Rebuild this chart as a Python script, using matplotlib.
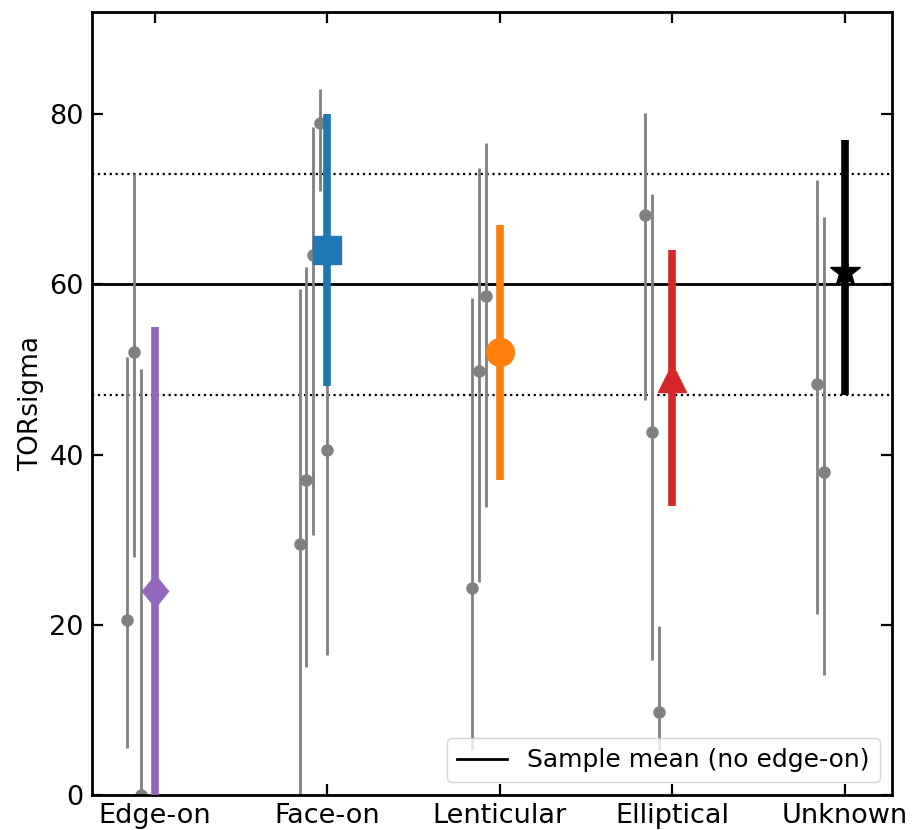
import matplotlib
matplotlib.use("Agg")
import matplotlib.pyplot as plt
from matplotlib.markers import MarkerStyle
from matplotlib.transforms import Affine2D

# Morphological classes along the x axis
categories = ["Edge-on", "Face-on", "Lenticular", "Elliptical", "Unknown"]

# Class averages with their lower / upper bounds
class_value = [24.0, 64.0, 52.0, 49.0, 61.5]
class_low = [-7.0, 48.0, 37.0, 34.0, 47.0]
class_high = [55.0, 80.0, 67.0, 64.0, 77.0]
class_colors = ["#9467bd", "#1f77b4", "#ff7f0e", "#d62728", "black"]

# Individual galaxies in each class (value, lower bound, upper bound)
edge_on_val = [20.5, 52.0, 0.0]
edge_on_low = [5.5, 28.0, -50.0]
edge_on_high = [51.5, 73.0, 50.0]

face_on_val = [29.5, 37.0, 63.5, 79.0, 40.5]
face_on_low = [-0.5, 15.0, 30.5, 71.0, 16.5]
face_on_high = [59.5, 62.0, 78.5, 83.0, 64.5]

lenticular_val = [24.3, 49.8, 58.6]
lenticular_low = [5.3, 25.0, 33.8]
lenticular_high = [58.4, 73.7, 76.6]

elliptical_val = [68.1, 42.7, 9.8]
elliptical_low = [46.4, 15.9, 5.3]
elliptical_high = [80.1, 70.6, 19.8]

unknown_val = [48.3, 37.9]
unknown_low = [21.3, 14.1]
unknown_high = [72.3, 67.9]

sample_mean = 60.0
sample_band = [47.0, 73.0]

members = [
    (edge_on_val, edge_on_low, edge_on_high),
    (face_on_val, face_on_low, face_on_high),
    (lenticular_val, lenticular_low, lenticular_high),
    (elliptical_val, elliptical_low, elliptical_high),
    (unknown_val, unknown_low, unknown_high),
]

plt.rcParams["font.family"] = ["DejaVu Sans"]

fig = plt.figure(figsize=(9.14, 8.30), dpi=100)
ax = fig.add_axes([0.1007, 0.0422, 0.8753, 0.9434])

# reference lines for the whole sample
ax.axhline(sample_mean, color="black", lw=2.0, zorder=1,
           label="Sample mean (no edge-on)")
for b in sample_band:
    ax.axhline(b, color="black", lw=1.6, ls=":", zorder=1)

# individual galaxies, offset to the left of each class position
for i, (vals, lows, highs) in enumerate(members):
    for j, (v, lo, hi) in enumerate(zip(vals, lows, highs)):
        x = i - 0.16 + 0.04 * j
        ax.errorbar([x], [v], yerr=[[v - lo], [hi - v]], fmt="o",
                    color="grey", ms=8, elinewidth=2.0, capsize=0, zorder=2)

diamond = MarkerStyle("D", transform=Affine2D().scale(0.8, 1.0))
markers = [diamond, "s", "o", "^", "*"]
sizes = [16, 20, 20, 20, 22]

for i in range(len(categories)):
    v = class_value[i]
    ax.errorbar([i], [v], yerr=[[v - class_low[i]], [class_high[i] - v]],
                fmt="none", ecolor=class_colors[i], elinewidth=5.5,
                capsize=0, zorder=3)
    ax.plot([i], [v], marker=markers[i], ms=sizes[i], color=class_colors[i],
            ls="none", zorder=4)

ax.set_xticks(range(len(categories)))
ax.set_xticklabels(categories)
ax.set_xlim(-0.362, 4.272)
ax.set_ylim(0, 92)
ax.set_yticks([0, 20, 40, 60, 80])
ax.set_ylabel("TORsigma", fontsize=19)

ax.tick_params(direction="in", top=True, right=True, length=8, width=1.6,
               labelsize=19.5, pad=6)
for s in ax.spines.values():
    s.set_linewidth(2.0)

ax.legend(loc="lower right", fontsize=18)

fig.savefig("out.png", dpi=100)
